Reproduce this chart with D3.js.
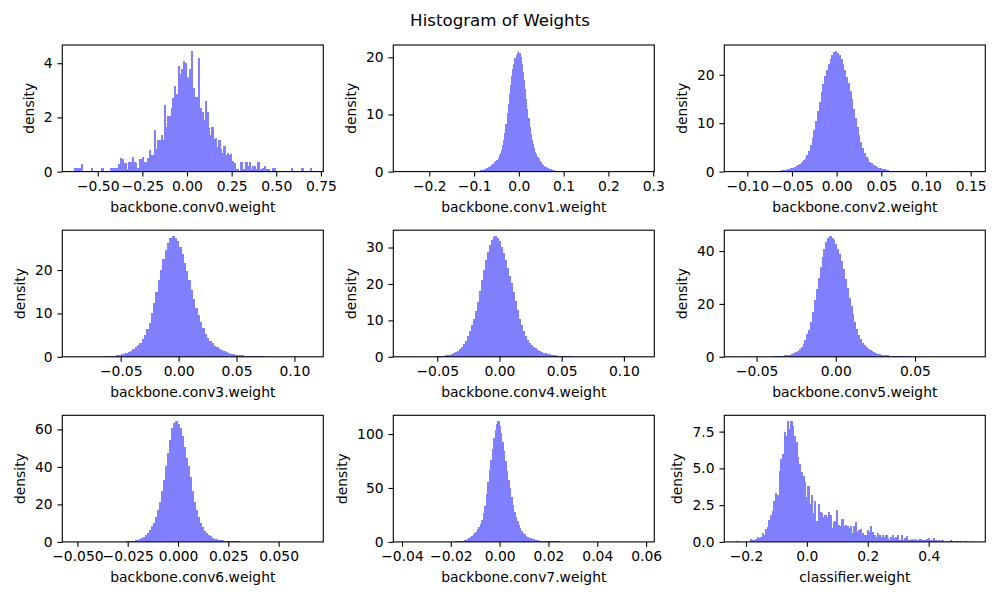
<!DOCTYPE html>
<html><head><meta charset="utf-8">
<script src="https://cdn.jsdelivr.net/npm/d3@7"></script>
<style>
body{margin:0;background:#fff}
svg{display:block}
text{font-family:"DejaVu Sans",sans-serif;fill:#000}
</style>
</head><body><svg id="chart" width="1000" height="600"></svg>
<script>
// ---------------- DATA ----------------
const chartTitle = "Histogram of Weights";
const layerNames = ["backbone.conv0.weight","backbone.conv1.weight","backbone.conv2.weight",
  "backbone.conv3.weight","backbone.conv4.weight","backbone.conv5.weight",
  "backbone.conv6.weight","backbone.conv7.weight","classifier.weight"];

// data extents (min, max of weights) per layer
const conv0Extent = [-0.632, 0.697];
const conv1Extent = [-0.254, 0.276];
const conv2Extent = [-0.1125, 0.1531];
const conv3Extent = [-0.0902, 0.1147];
const conv4Extent = [-0.0758, 0.1149];
const conv5Extent = [-0.0629, 0.0869];
const conv6Extent = [-0.0516, 0.0663];
const conv7Extent = [-0.0387, 0.0585];
const classifierExtent = [-0.2323, 0.547];

// first bin edge and bin width for each layer's density values
const conv0Bins = [-0.632, 0.009493];
const conv1Bins = [-0.1025, 0.0025];
const conv2Bins = [-0.068, 0.002];
const conv3Bins = [-0.064, 0.002];
const conv4Bins = [-0.0504, 0.0016];
const conv5Bins = [-0.039, 0.0012];
const conv6Bins = [-0.0265, 0.001];
const conv7Bins = [-0.0183, 0.0006];
const classifierBins = [-0.2323, 0.005567];

// density per bin
const conv0Density = [
 0.14,0.14,0.14,0.14,0.28,0,0,0,0,0,0.14,0,0,0,0,0,0.14,0,0,0,0,0.14,0.14,0.14,0.14,0.14,0.28,
 0.5,0.45,0.3,0.3,0.1,0.35,0.35,0.55,0.35,0.3,
 0.15,0.45,0.45,0.55,0.35,0.35,0.5,0.8,0.6,0.6,
 1.55,0.85,1.15,1.15,1.35,1.15,2.45,1.65,2.05,2.05,
 2.35,2.7,3.15,2.85,3.9,3.6,3.8,4.1,4.0,3.5,
 3.45,3.8,4.45,3.1,2.75,2.75,4.2,2.35,2.2,1.9,
 2.6,2.2,1.6,1.35,1.65,1.2,1.25,0.9,1.15,0.85,
 0.7,0.95,0.6,0.7,0.6,0.65,0.4,0.3,0.1,0.1,
 0,0.35,0.1,0.1,0.35,0.2,0.35,0.1,0.2,0.2,
 0.1,0.35,0.1,0.1,0.15,0.2,0.1,0.1,0,0,
 0.14,0.14,0,0,0,0,0,0,0,0,0,0.14,0,0,0,0,0,0.14,0,0,0,0,0.14];
const conv1Density = [
 0.08,0.1,0.1,0.12,0.15,0.17,0.2,0.25,0.3,0.36,0.42,0.52,0.62,0.72,0.82,0.95,1.1,1.25,1.4,1.6,
 1.8,2.05,2.45,2.9,3.3,3.8,4.6,5.5,6.7,8.4,10.2,11.8,13.6,15.1,16.7,17.9,18.9,19.8,20.4,20.8,
 21.1,20.8,20.1,18.9,17.4,16.0,14.4,12.7,11.0,9.3,7.8,6.5,5.6,4.8,4.1,3.5,3.0,2.6,2.2,1.85,
 1.6,1.35,1.1,0.95,0.82,0.72,0.62,0.52,0.45,0.4,0.32,0.26,0.22,0.18,0.14,0.12,0.1,0.08];
const conv2Density = [
 0.14,0.17,0.2,0.26,0.3,0.38,0.45,0.55,0.68,0.8,0.95,1.15,1.35,1.6,1.9,2.3,2.8,3.4,4.3,5.4,
 6.9,8.6,10.5,12.5,14.4,16.4,18.1,19.7,21.0,22.3,23.3,24.1,24.6,24.9,24.5,24.0,23.3,22.2,21.0,19.6,
 18.2,16.7,14.9,13.0,11.1,9.3,7.6,6.1,4.9,3.9,3.1,2.5,2.05,1.7,1.4,1.15,0.95,0.8,0.68,0.58,
 0.48,0.4,0.33];
const conv3Density = [
 0.12,0.14,0.17,0.2,0.25,0.32,0.42,0.55,0.7,0.88,1.1,1.4,1.75,2.2,2.7,3.2,4.0,5.0,6.3,7.9,
 10.2,12.4,14.9,17.6,20.1,22.6,24.7,26.2,27.3,27.8,27.5,26.7,25.4,23.8,21.7,19.8,17.6,15.4,13.3,11.3,
 9.6,8.0,6.6,5.3,4.3,3.6,3.1,2.6,2.2,1.8,1.5,1.25,1.0,0.85,0.7,0.58,0.48,0.4,0.34,0.3,
 0.27,0.24,0.21,0.18,0.16,0.14,0.12,0.1,0.08,0.06];
const conv4Density = [
 0.2,0.24,0.28,0.32,0.38,0.45,0.6,0.8,1.0,1.3,1.7,2.2,2.8,3.5,4.4,5.6,7.0,8.6,10.3,12.5,
 15.0,18.0,21.0,23.8,26.5,28.8,30.8,32.2,33.0,33.1,32.6,31.7,30.2,28.5,26.5,24.4,22.1,20.2,17.8,15.3,
 12.8,10.5,8.6,7.0,5.7,4.7,3.9,3.3,2.8,2.4,2.0,1.6,1.3,1.1,0.95,0.8,0.65,0.55,0.45,0.38,
 0.32,0.28,0.24,0.21,0.19,0.17,0.15,0.13];
const conv5Density = [
 0.3,0.32,0.35,0.4,0.45,0.5,0.58,0.7,0.85,1.05,1.4,1.8,2.3,2.9,3.8,5.0,6.5,8.5,10.3,13.0,
 17.0,21.5,25.5,29.8,34.0,37.8,40.8,43.3,45.0,45.6,45.1,44.0,42.6,40.9,39.0,36.3,33.1,29.6,26.0,22.3,
 19.3,16.0,13.1,10.4,8.4,6.7,5.4,4.4,3.6,3.0,2.5,2.1,1.7,1.4,1.2,1.0,0.85,0.72,0.62,0.55,
 0.48,0.43,0.38,0.34,0.3,0.28,0.26,0.24,0.22,0.2,0.18,0.16];
const conv6Density = [
 0.3,0.35,0.42,0.55,0.7,0.85,1.0,1.4,1.9,2.6,3.5,4.8,6.5,8.4,10.0,13.5,17.0,21.5,27.0,33.0,
 40.5,47.5,54.5,60.5,63.5,64.3,62.8,60.8,56.5,50.5,45.0,40.3,34.5,27.0,21.5,17.0,13.2,10.0,7.8,6.0,
 4.6,3.6,2.9,2.3,1.8,1.4,1.15,0.95,0.8,0.7,0.6,0.52,0.45,0.4,0.35,0.32,0.28];
const conv7Density = [
 0.5,0.6,0.7,0.85,1.0,1.2,1.5,2.0,2.6,3.2,4.2,5.4,6.9,8.3,9.6,11.5,14.0,17.0,20.5,26.5,
 33.5,44.5,56.0,66.5,76.0,86.0,96.0,104.0,109.5,111.8,107.5,101.0,93.0,84.0,75.0,66.0,57.0,50.0,42.0,34.5,
 28.0,23.0,19.5,16.0,13.0,10.3,8.7,7.2,5.8,4.7,3.8,3.2,2.8,2.4,2.0,1.7,1.45,1.25,1.1,1.0,
 0.9,0.8,0.72,0.65,0.6,0.55,0.5,0.47,0.44,0.42,0.4];
const classifierDensity = [
 0.07,0,0,0,0,0,0,0,0.2,0.15,0.1,0.2,0.3,0.25,
 0.3,0.6,0.5,0.9,1.0,1.5,1.8,2.1,2.8,3.35,
 3.2,4.85,5.65,6.0,7.45,7.2,8.2,7.7,8.2,7.9,
 7.2,6.8,5.75,5.3,4.75,4.5,4.1,3.05,3.8,2.55,
 3.2,1.95,2.75,1.4,2.6,2.05,1.95,1.7,1.85,1.7,
 2.05,1.8,0.95,1.35,1.4,2.2,1.15,1.05,1.55,1.05,
 1.15,1.1,0.95,1.05,0.6,1.05,1.35,0.7,0.8,0.9,
 0.6,0.5,0.45,0.8,0.65,1.05,0.65,0.5,0.3,0.6,
 0.5,0.35,0.45,0.3,0.45,0.25,0.15,0.35,0.5,0.25,
 0.3,0.5,0.15,0.45,0.15,0.25,0.4,0.15,0.15,0.2,
 0.15,0.2,0.1,0.15,0.2,0.1,0.15,0.1,0.2,0.25,0.1,0.15,0.25,0.1,0.07,0.1,0.07,0.1,0,0.07,
 0.07,0,0.1,0.07,0,0.07,0.07,0,0.07,0,0,0.07,0,0,0,0.07];

// tick values
const conv0XTicks = [-0.5,-0.25,0,0.25,0.5,0.75];
const conv1XTicks = [-0.2,-0.1,0,0.1,0.2,0.3];
const conv2XTicks = [-0.1,-0.05,0,0.05,0.1,0.15];
const conv3XTicks = [-0.05,0,0.05,0.1];
const conv4XTicks = [-0.05,0,0.05,0.1];
const conv5XTicks = [-0.05,0,0.05];
const conv6XTicks = [-0.05,-0.025,0,0.025,0.05];
const conv7XTicks = [-0.04,-0.02,0,0.02,0.04,0.06];
const classifierXTicks = [-0.2,0,0.2,0.4];
const conv0YTicks = [0,2,4];
const conv1YTicks = [0,10,20];
const conv2YTicks = [0,10,20];
const conv3YTicks = [0,10,20];
const conv4YTicks = [0,10,20,30];
const conv5YTicks = [0,20,40];
const conv6YTicks = [0,20,40,60];
const conv7YTicks = [0,50,100];
const classifierYTicks = [0,2.5,5,7.5];
const xTickFormats = [".2f",".1f",".2f",".2f",".2f",".2f",".3f",".2f",".1f"];
const yTickFormats = ["d","d","d","d","d","d","d","d",".1f"];

// ---------------- DRAW ----------------
const panels = [
 [conv0Extent, conv0Bins, conv0Density, conv0XTicks, conv0YTicks],
 [conv1Extent, conv1Bins, conv1Density, conv1XTicks, conv1YTicks],
 [conv2Extent, conv2Bins, conv2Density, conv2XTicks, conv2YTicks],
 [conv3Extent, conv3Bins, conv3Density, conv3XTicks, conv3YTicks],
 [conv4Extent, conv4Bins, conv4Density, conv4XTicks, conv4YTicks],
 [conv5Extent, conv5Bins, conv5Density, conv5XTicks, conv5YTicks],
 [conv6Extent, conv6Bins, conv6Density, conv6XTicks, conv6YTicks],
 [conv7Extent, conv7Bins, conv7Density, conv7XTicks, conv7YTicks],
 [classifierExtent, classifierBins, classifierDensity, classifierXTicks, classifierYTicks]
].map((p, i) => ({extent: p[0], start: p[1][0], bw: p[1][1], values: p[2], xTicks: p[3], yTicks: p[4],
  xFmt: xTickFormats[i], yFmt: yTickFormats[i], name: layerNames[i]}));

const svg = d3.select("#chart");
const FS = 13.89;
const colLefts = [62.3, 393.3, 724.3];
const rowTops = [45, 230.2, 415.3];
const W = 261, H = 126.6;
const tickLen = 4.86, tickPad = 4.86;

svg.append("text").attr("x", 500).attr("y", 25.5).attr("text-anchor", "middle")
  .style("font-size", "16.67px").text(chartTitle);

panels.forEach((p, i) => {
  const left = colLefts[i % 3], top = rowTops[Math.floor(i / 3)];
  const g = svg.append("g").attr("transform", `translate(${left},${top})`);
  const span = p.extent[1] - p.extent[0];
  const x = d3.scaleLinear().domain([p.extent[0] - 0.05 * span, p.extent[1] + 0.05 * span]).range([0, W]);
  const y = d3.scaleLinear().domain([0, d3.max(p.values) * 1.05]).range([H, 0]);
  const bins = p.values.map((v, k) => ({x0: p.start + k * p.bw, x1: p.start + (k + 1) * p.bw, v}));

  g.selectAll("rect.bar").data(bins.filter(b => b.v > 0)).join("rect")
    .attr("class", "bar")
    .attr("x", d => x(d.x0))
    .attr("width", d => x(d.x1) - x(d.x0) + 0.6)
    .attr("y", d => y(d.v))
    .attr("height", d => H - y(d.v))
    .attr("fill", "#8080ff")
    .attr("shape-rendering", "crispEdges");

  const xa = g.append("g").attr("transform", `translate(0,${H})`)
    .call(d3.axisBottom(x).tickValues(p.xTicks).tickFormat(d3.format(p.xFmt))
      .tickSize(tickLen).tickSizeOuter(0).tickPadding(tickPad));
  const ya = g.append("g")
    .call(d3.axisLeft(y).tickValues(p.yTicks).tickFormat(d3.format(p.yFmt))
      .tickSize(tickLen).tickSizeOuter(0).tickPadding(tickPad));
  [xa, ya].forEach(a => {
    a.select(".domain").remove();
    a.attr("font-family", null).attr("font-size", null);
    a.selectAll("line").attr("stroke", "#000").attr("stroke-width", 1.1);
    a.selectAll("text").style("font-size", FS + "px").attr("fill", "#000");
  });

  g.append("rect").attr("x", 0).attr("y", 0).attr("width", W).attr("height", H)
    .attr("fill", "none").attr("stroke", "#000").attr("stroke-width", 1.1);

  g.append("text").attr("x", W / 2).attr("y", H + 40.5).attr("text-anchor", "middle")
    .style("font-size", FS + "px").text(p.name);

  let minLeft = 0;
  ya.selectAll("text").each(function() {
    const l = -(tickLen + tickPad) - this.getComputedTextLength();
    if (l < minLeft) minLeft = l;
  });
  const bx = minLeft - 5.56 - 4.6;
  g.append("text").attr("transform", `translate(${bx},${H / 2}) rotate(-90)`)
    .attr("text-anchor", "middle").style("font-size", FS + "px").text("density");
});
</script>
</body></html>
